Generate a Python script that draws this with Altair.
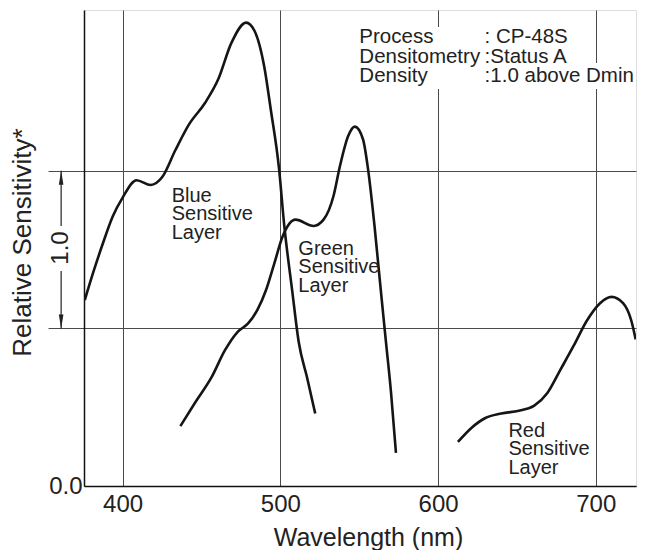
import altair as alt
import pandas as pd

FONT = "Liberation Sans"

# ---- curve data (wavelength nm, relative sensitivity) ----
blue_nm = [376.0, 381.2, 387.5, 393.7, 400.0, 408.8, 417.8, 425.1, 433.4, 441.8, 452.2, 460.6,
           468.9, 478.3, 483.5, 489.8, 493.9, 499.2, 502.3, 507.5, 511.7, 516.9, 522.1]
blue_val = [1.18, 1.35, 1.54, 1.71, 1.83, 1.94, 1.91, 1.96, 2.13, 2.29, 2.43, 2.58,
            2.81, 2.94, 2.89, 2.66, 2.39, 2.01, 1.67, 1.24, 0.91, 0.69, 0.46]

green_nm = [436.6, 446.0, 456.4, 464.8, 473.1, 479.4, 485.6, 490.8, 496.1, 501.3, 509.6, 521.1,
            527.4, 533.7, 537.8, 543.0, 547.2, 552.4, 555.6, 559.7, 563.9, 567.0, 570.2, 573.3]
green_val = [0.38, 0.53, 0.69, 0.86, 0.98, 1.03, 1.12, 1.24, 1.41, 1.58, 1.69, 1.65,
             1.69, 1.84, 2.03, 2.22, 2.28, 2.20, 2.01, 1.65, 1.22, 0.91, 0.59, 0.21]

red_nm = [612.6, 621.3, 629.7, 640.1, 652.6, 661.0, 669.3, 677.7, 686.0, 694.4, 702.7, 710.0,
          717.3, 722.5, 725.3]
red_val = [0.28, 0.37, 0.43, 0.46, 0.48, 0.51, 0.59, 0.74, 0.89, 1.05, 1.16, 1.20,
           1.16, 1.05, 0.93]

# ---- labels ----
layer_labels = ["Blue\nSensitive\nLayer", "Green\nSensitive\nLayer", "Red\nSensitive\nLayer"]
layer_label_nm = [431.1, 511.4, 644.6]
layer_label_val = [1.804, 1.466, 0.313]

info_keys = ["Process", "Densitometry", "Density"]
info_values = [": CP-48S", ":Status A", ":1.0 above Dmin"]
info_key_nm = 550.1
info_value_nm = 629.5
info_row_val = [2.809, 2.686, 2.565]

# white backgrounds behind the info text
bg_x = [548.5, 548.5]
bg_x2 = [685.6, 724.5]
bg_y = [2.912, 2.684]
bg_y2 = [2.684, 2.519]

# "1.0" scale-bar annotation left of the axis
bar_nm = 361.0
bar_seg_lo = [1.0, 1.65]
bar_seg_hi = [1.364, 2.0]
bar_text_val = 1.51

x_scale = alt.Scale(domain=[375.5, 725.5], nice=False, zero=False)
y_scale = alt.Scale(domain=[0, 3.02], nice=False, zero=False)

curves = pd.concat([
    pd.DataFrame({"nm": blue_nm, "val": blue_val, "layer": "Blue"}),
    pd.DataFrame({"nm": green_nm, "val": green_val, "layer": "Green"}),
    pd.DataFrame({"nm": red_nm, "val": red_val, "layer": "Red"}),
])

lines = alt.Chart(curves).mark_line(
    interpolate="monotone", color="#151515", strokeWidth=2.6, clip=True
).encode(
    x=alt.X("nm:Q", scale=x_scale, axis=alt.Axis(
        values=[400, 500, 600, 700], format="d", title="Wavelength (nm)",
        grid=True, gridColor="#4a4a4a", gridWidth=1,
        ticks=False, tickSize=0, labelPadding=6,
        labelFontSize=24, labelFont=FONT, labelColor="#222",
        titleFontSize=25, titleFont=FONT, titleColor="#222", titleFontWeight="normal",
        titleX=284, titleY=39, domainColor="#111", domainWidth=1.5,
    )),
    y=alt.Y("val:Q", scale=y_scale, axis=alt.Axis(
        values=[0, 1, 2], labelExpr="datum.value == 0 ? '0.0' : ''",
        grid=True, gridColor="#4a4a4a", gridWidth=1,
        tickSize=36, tickWidth=1,
        tickColor={"condition": {"test": "datum.value == 0", "value": "transparent"}, "value": "#4a4a4a"},
        labelPadding=-34, labelFontSize=24, labelFont=FONT, labelColor="#222",
        title="Relative Sensitivity*", titleFontSize=26, titleFont=FONT, titleColor="#222",
        titleFontWeight="normal", titleX=-49, titleY=232,
        domainColor="#111", domainWidth=1.5,
    )),
    detail="layer:N",
)

bg = alt.Chart(pd.DataFrame({"x": bg_x, "x2": bg_x2, "y": bg_y, "y2": bg_y2})).mark_rect(
    color="white", clip=True
).encode(x=alt.X("x:Q", scale=x_scale), x2="x2:Q", y=alt.Y("y:Q", scale=y_scale), y2="y2:Q")

layer_text = alt.Chart(pd.DataFrame({"t": layer_labels, "nm": layer_label_nm, "val": layer_label_val})).mark_text(
    align="left", baseline="alphabetic", lineBreak="\n", lineHeight=18.5,
    fontSize=20, font=FONT, color="#222"
).encode(x=alt.X("nm:Q", scale=x_scale), y=alt.Y("val:Q", scale=y_scale), text="t:N")

info_df = pd.DataFrame({"k": info_keys, "v": info_values, "val": info_row_val,
                        "knm": [info_key_nm] * 3, "vnm": [info_value_nm] * 3})
info_k = alt.Chart(info_df).mark_text(
    align="left", baseline="alphabetic", fontSize=20.5, font=FONT, color="#222"
).encode(x=alt.X("knm:Q", scale=x_scale), y=alt.Y("val:Q", scale=y_scale), text="k:N")
info_v = alt.Chart(info_df).mark_text(
    align="left", baseline="alphabetic", fontSize=20.5, font=FONT, color="#222"
).encode(x=alt.X("vnm:Q", scale=x_scale), y=alt.Y("val:Q", scale=y_scale), text="v:N")

bar_df = pd.DataFrame({"nm": [bar_nm] * 2, "lo": bar_seg_lo, "hi": bar_seg_hi})
bar_rules = alt.Chart(bar_df).mark_rule(color="#222", strokeWidth=1.2, clip=False).encode(
    x=alt.X("nm:Q", scale=x_scale), y=alt.Y("lo:Q", scale=y_scale), y2="hi:Q")

arrow_df = pd.DataFrame({"nm": [bar_nm, bar_nm], "val": [2.0, 1.0],
                         "dir": ["up", "down"]})
arrow_up = alt.Chart(arrow_df[arrow_df.dir == "up"]).mark_point(
    shape="M0,0L0.33,2L-0.33,2Z", filled=True, color="#222", size=196, opacity=1, clip=False
).encode(x=alt.X("nm:Q", scale=x_scale), y=alt.Y("val:Q", scale=y_scale))
arrow_dn = alt.Chart(arrow_df[arrow_df.dir == "down"]).mark_point(
    shape="M0,0L0.33,-2L-0.33,-2Z", filled=True, color="#222", size=196, opacity=1, clip=False
).encode(x=alt.X("nm:Q", scale=x_scale), y=alt.Y("val:Q", scale=y_scale))

bar_text = alt.Chart(pd.DataFrame({"nm": [bar_nm], "val": [bar_text_val], "t": ["1.0"]})).mark_text(
    angle=270, align="center", baseline="middle", fontSize=24, font=FONT, color="#222", clip=False
).encode(x=alt.X("nm:Q", scale=x_scale), y=alt.Y("val:Q", scale=y_scale), text="t:N")

chart = alt.layer(
    lines, bg, layer_text, info_k, info_v, bar_rules, arrow_up, arrow_dn, bar_text
).properties(
    width=552, height=476,
    autosize=alt.AutoSizeParams(type="none"),
    padding={"left": 76, "top": 2, "right": 1, "bottom": 66},
).configure_view(
    stroke="#111", strokeWidth=1.5
).configure(background="white")

chart.save("out.html", embed_options={"renderer": "svg", "actions": False})
